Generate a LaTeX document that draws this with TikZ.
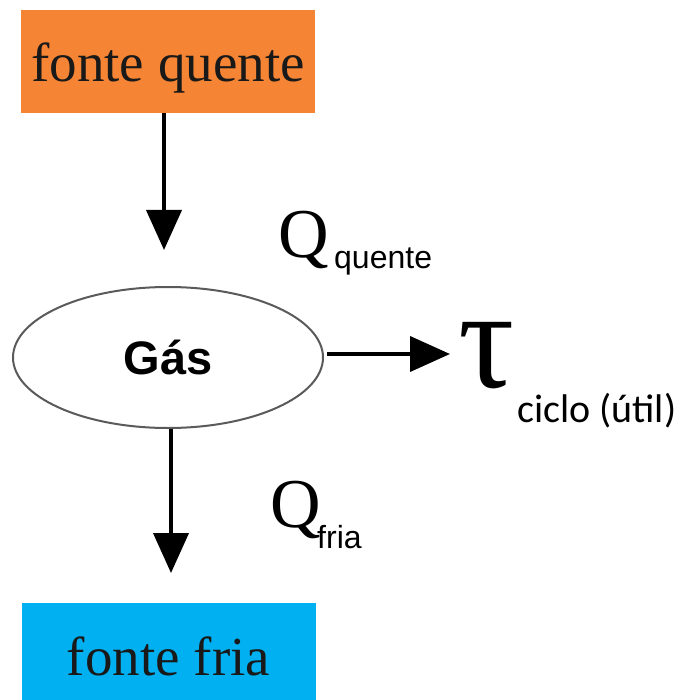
\documentclass[tikz,border=0pt]{standalone}
\usepackage{fontspec}
\setmainfont{Liberation Serif}
\newfontfamily\arialf{Liberation Sans}
\newfontfamily\calibrif{Carlito}
\usetikzlibrary{arrows.meta,shapes.geometric}
\definecolor{hotc}{RGB}{245,132,52}
\definecolor{coldc}{RGB}{0,176,240}
\definecolor{ellc}{RGB}{90,90,90}
\begin{document}
\begin{tikzpicture}[x=1pt,y=-1pt,
  boxstyle/.style={rectangle, inner sep=0pt, minimum width=294pt, font=\fontsize{55}{60}\selectfont, text=black!90},
  flowarrow/.style={line width=4pt, -{Triangle[length=40pt,width=35pt]}},
  qbig/.style={inner sep=0pt, anchor=base west, font=\fontsize{70}{70}\selectfont},
  qsub/.style={inner sep=0pt, anchor=base west, font=\arialf\fontsize{32}{34}\selectfont}]
\useasboundingbox (0,0) rectangle (692,700);
\fill[white] (0,0) rectangle (692,700);
\node[boxstyle, fill=hotc, minimum height=103pt, text height=41pt, text depth=0pt] (hot) at (168,61.5) {fonte quente};
\node[boxstyle, fill=coldc, minimum height=97pt, text height=47pt, text depth=0pt] (cold) at (168.5,651.5) {fonte fria};
\node[ellipse, draw=ellc, line width=2pt, minimum width=310pt, minimum height=141pt, inner sep=0pt,
  font=\arialf\bfseries\fontsize{47}{50}\selectfont] (gas) at (168,357.5) {Gás};
\coordinate (t1) at (164,250);
\coordinate (t2) at (171,573);
\coordinate (t3) at (450,354);
\draw[flowarrow] (hot.south -| t1) -- (t1);
\draw[flowarrow] (gas.south -| t2) -- (t2);
\draw[flowarrow] (327,354) coordinate (s3) -- (t3);
\node[qbig] (qq) at (278,258) {Q};
\node[qsub] (qqs) at (334,268) {quente};
\node[qbig] (qf) at (270,527) {Q};
\node[qsub] (qfs) at (317,548) {fria};
\node[inner sep=0pt, font=\fontsize{100}{100}\selectfont, xscale=1.4, yscale=1.42] (tau) at (487,356) {τ};
\node[inner sep=0pt, anchor=base west, font=\calibrif\fontsize{40}{44}\selectfont] (ciclo) at (517,422) {ciclo (útil)};
\end{tikzpicture}
\end{document}
